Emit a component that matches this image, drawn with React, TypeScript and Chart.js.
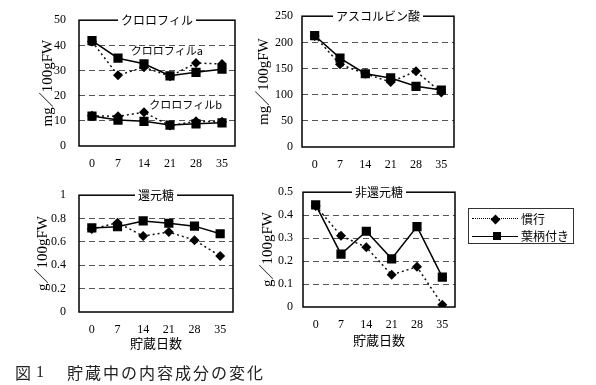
import React, { useEffect, useRef } from 'react';
import { Chart, registerables } from 'chart.js';
Chart.register(...registerables);

// ---- data ----
const days = ['0', '7', '14', '21', '28', '35'];
const seriesNames = ['慣行', '葉柄付き'];

const chlA_kanko = [41.5, 28.1, 31.3, 27.7, 33.0, 32.6];
const chlA_yohei = [41.9, 34.9, 32.7, 27.9, 29.3, 30.5];
const chlB_kanko = [12.0, 11.8, 13.4, 8.1, 9.8, 9.6];
const chlB_yohei = [11.9, 10.3, 9.8, 8.3, 8.8, 9.2];

const asc_kanko = [212, 158, 140, 124, 145, 104];
const asc_yohei = [213, 170, 140, 132, 116, 109];

const red_kanko = [0.71, 0.765, 0.65, 0.685, 0.615, 0.48];
const red_yohei = [0.72, 0.73, 0.78, 0.76, 0.735, 0.67];

const nonred_kanko = [0.44, 0.31, 0.26, 0.14, 0.175, 0.01];
const nonred_yohei = [0.445, 0.23, 0.33, 0.21, 0.35, 0.13];

const panelTitles = ['クロロフィル', 'アスコルビン酸', '還元糖', '非還元糖'];
const yTitles = ['mg／100gFW', 'mg／100gFW', 'g／100gFW', 'g／100gFW'];
const xTitle = '貯蔵日数';
const chlLabels = ['クロロフィルa', 'クロロフィルb'];
const caption = '貯蔵中の内容成分の変化';

const SERIF = '"Liberation Serif", "DejaVu Serif", "Noto Sans CJK JP", serif';
const CJK = '"Noto Sans CJK JP", sans-serif';

function kankoDs(data: number[]) {
  return {
    label: seriesNames[0],
    data,
    borderColor: '#111',
    backgroundColor: '#000',
    borderWidth: 1.5,
    borderDash: [2, 3],
    pointStyle: 'rectRot',
    pointRadius: 5,
    pointBorderWidth: 0,
    tension: 0,
  };
}
function yoheiDs(data: number[]) {
  return {
    label: seriesNames[1],
    data,
    borderColor: '#000',
    backgroundColor: '#000',
    borderWidth: 1.5,
    pointStyle: 'rect',
    pointRadius: 6.5,
    pointBorderWidth: 0,
    tension: 0,
  };
}

const framePlugin = {
  id: 'frame',
  afterDraw(chart: any, _args: any, opts: any) {
    const { ctx, chartArea } = chart;
    const { left, top, right, bottom } = chartArea;
    ctx.save();
    ctx.setLineDash([]);
    ctx.strokeStyle = '#000';
    ctx.lineWidth = 1.5;
    ctx.strokeRect(left, top, right - left, bottom - top);
    if (opts.title) {
      ctx.font = '12px ' + CJK;
      const w = ctx.measureText(opts.title).width;
      const cx = (left + right) / 2;
      ctx.fillStyle = '#fff';
      ctx.fillRect(cx - w / 2 - 3, top - 8, w + 6, 16);
      ctx.fillStyle = '#000';
      ctx.textAlign = 'center';
      ctx.textBaseline = 'middle';
      ctx.fillText(opts.title, cx, top);
    }
    if (opts.notes) {
      const xs = chart.scales.x;
      const ys = chart.scales.y;
      ctx.font = '11px ' + CJK;
      ctx.fillStyle = '#000';
      ctx.textAlign = 'center';
      ctx.textBaseline = 'middle';
      for (const n of opts.notes) {
        ctx.fillText(n.text, xs.getPixelForValue(n.x), ys.getPixelForValue(n.y));
      }
    }
    ctx.restore();
  },
};

type PanelProps = {
  left: number; top: number; width: number; height: number;
  pad: { left: number; top: number; right: number; bottom: number };
  yWidth: number; xHeight: number;
  yMax: number; yStep: number; yTitle: string; yTickPad: number;
  xTickPad: number; xTitle?: string; xTitlePad?: number;
  title: string; datasets: any[]; notes?: any[];
};

function Panel(p: PanelProps) {
  const ref = useRef<HTMLCanvasElement>(null);
  useEffect(() => {
    const chart = new Chart(ref.current as HTMLCanvasElement, {
      type: 'line',
      data: { labels: days, datasets: p.datasets },
      plugins: [framePlugin],
      options: {
        animation: false,
        responsive: false,
        devicePixelRatio: 1,
        layout: { padding: p.pad },
        plugins: {
          legend: { display: false },
          tooltip: { enabled: false },
          frame: { title: p.title, notes: p.notes },
        } as any,
        scales: {
          x: {
            type: 'category',
            offset: true,
            grid: { display: false, drawTicks: false },
            border: { display: false },
            ticks: { color: '#000', padding: p.xTickPad, font: { family: SERIF, size: 12 }, maxRotation: 0 },
            title: p.xTitle
              ? { display: true, text: p.xTitle, color: '#000', font: { family: CJK, size: 13 }, padding: { top: 0, bottom: p.xTitlePad ?? 4 } }
              : { display: false },
            afterFit: (s: any) => { s.height = p.xHeight; },
          },
          y: {
            min: 0,
            max: p.yMax,
            grid: {
              drawTicks: false,
              lineWidth: 1,
              color: (c: any) => (c.tick && (c.tick.value === 0 || c.tick.value >= p.yMax - 1e-9) ? 'rgba(0,0,0,0)' : '#555'),
            },
            border: { display: false, dash: [6, 4] },
            ticks: {
              stepSize: p.yStep,
              color: '#000',
              padding: p.yTickPad,
              font: { family: SERIF, size: 12 },
              callback: (v: any) => String(Number(Number(v).toFixed(3))),
            },
            title: { display: true, text: p.yTitle, color: '#000', font: { family: SERIF, size: 15 }, padding: { top: 4, bottom: 0 } },
            afterFit: (s: any) => { s.width = p.yWidth; },
          },
        },
      } as any,
    });
    return () => chart.destroy();
  }, []);
  return (
    <canvas
      ref={ref}
      width={p.width}
      height={p.height}
      style={{ position: 'absolute', left: p.left, top: p.top, width: p.width, height: p.height }}
    />
  );
}

export default function App() {
  return (
    <div style={{ position: 'absolute', left: 0, top: 0, width: 596, height: 385, background: '#fff', overflow: 'hidden' }}>
      <Panel
        left={0} top={0} width={290} height={180}
        pad={{ left: 35, top: 18, right: 55, bottom: 0 }}
        yWidth={44} xHeight={34}
        yMax={50} yStep={10} yTitle={yTitles[0]} yTickPad={13}
        xTickPad={11}
        title={panelTitles[0]}
        datasets={[yoheiDs(chlA_yohei), kankoDs(chlA_kanko), yoheiDs(chlB_yohei), kankoDs(chlB_kanko)]}
        notes={[{ text: chlLabels[0], x: 2.88, y: 37.8 }, { text: chlLabels[1], x: 3.6, y: 16.2 }]}
      />
      <Panel
        left={240} top={0} width={240} height={180}
        pad={{ left: 11, top: 16, right: 26, bottom: 0 }}
        yWidth={51} xHeight={33}
        yMax={250} yStep={50} yTitle={yTitles[1]} yTickPad={9}
        xTickPad={11}
        title={panelTitles[1]}
        datasets={[yoheiDs(asc_yohei), kankoDs(asc_kanko)]}
      />
      <Panel
        left={0} top={175} width={290} height={180}
        pad={{ left: 30, top: 8, right: 57, bottom: 0 }}
        yWidth={49} xHeight={43}
        yMax={1} yStep={0.2} yTitle={yTitles[2]} yTickPad={13}
        xTickPad={11} xTitle={xTitle} xTitlePad={4}
        title={panelTitles[2]}
        datasets={[yoheiDs(red_yohei), kankoDs(red_kanko)]}
      />
      <Panel
        left={240} top={175} width={240} height={180}
        pad={{ left: 15, top: 11, right: 25, bottom: 0 }}
        yWidth={48} xHeight={48}
        yMax={0.5} yStep={0.1} yTitle={yTitles[3]} yTickPad={10}
        xTickPad={11} xTitle={xTitle} xTitlePad={7}
        title={panelTitles[3]}
        datasets={[yoheiDs(nonred_yohei), kankoDs(nonred_kanko)]}
      />

      {/* legend */}
      <div style={{ position: 'absolute', left: 468, top: 208, width: 106, height: 36, border: '1px solid #333', boxSizing: 'border-box' }} />
      <div style={{ position: 'absolute', left: 472, top: 218, width: 46, borderTop: '1.5px dotted #000' }} />
      <div style={{ position: 'absolute', left: 491.5, top: 215.5, width: 7, height: 7, background: '#000', transform: 'rotate(45deg)' }} />
      <div style={{ position: 'absolute', left: 521, top: 211, lineHeight: '16px', fontSize: 12, fontFamily: CJK, color: '#000' }}>{seriesNames[0]}</div>
      <div style={{ position: 'absolute', left: 472, top: 235.5, width: 46, borderTop: '1.5px solid #000' }} />
      <div style={{ position: 'absolute', left: 493, top: 232, width: 8, height: 8, background: '#000' }} />
      <div style={{ position: 'absolute', left: 521, top: 228, lineHeight: '16px', fontSize: 12, fontFamily: CJK, color: '#000', whiteSpace: 'nowrap' }}>{seriesNames[1]}</div>

      {/* caption */}
      <div style={{ position: 'absolute', left: 15, top: 363, lineHeight: '18px', fontSize: 16, fontFamily: CJK, color: '#222' }}>図</div>
      <div style={{ position: 'absolute', left: 36, top: 363, lineHeight: '18px', fontSize: 16, fontFamily: SERIF, color: '#222' }}>1</div>
      <div style={{ position: 'absolute', left: 67, top: 363, lineHeight: '18px', fontSize: 16, letterSpacing: 2, fontFamily: CJK, color: '#222', whiteSpace: 'nowrap' }}>{caption}</div>
    </div>
  );
}
